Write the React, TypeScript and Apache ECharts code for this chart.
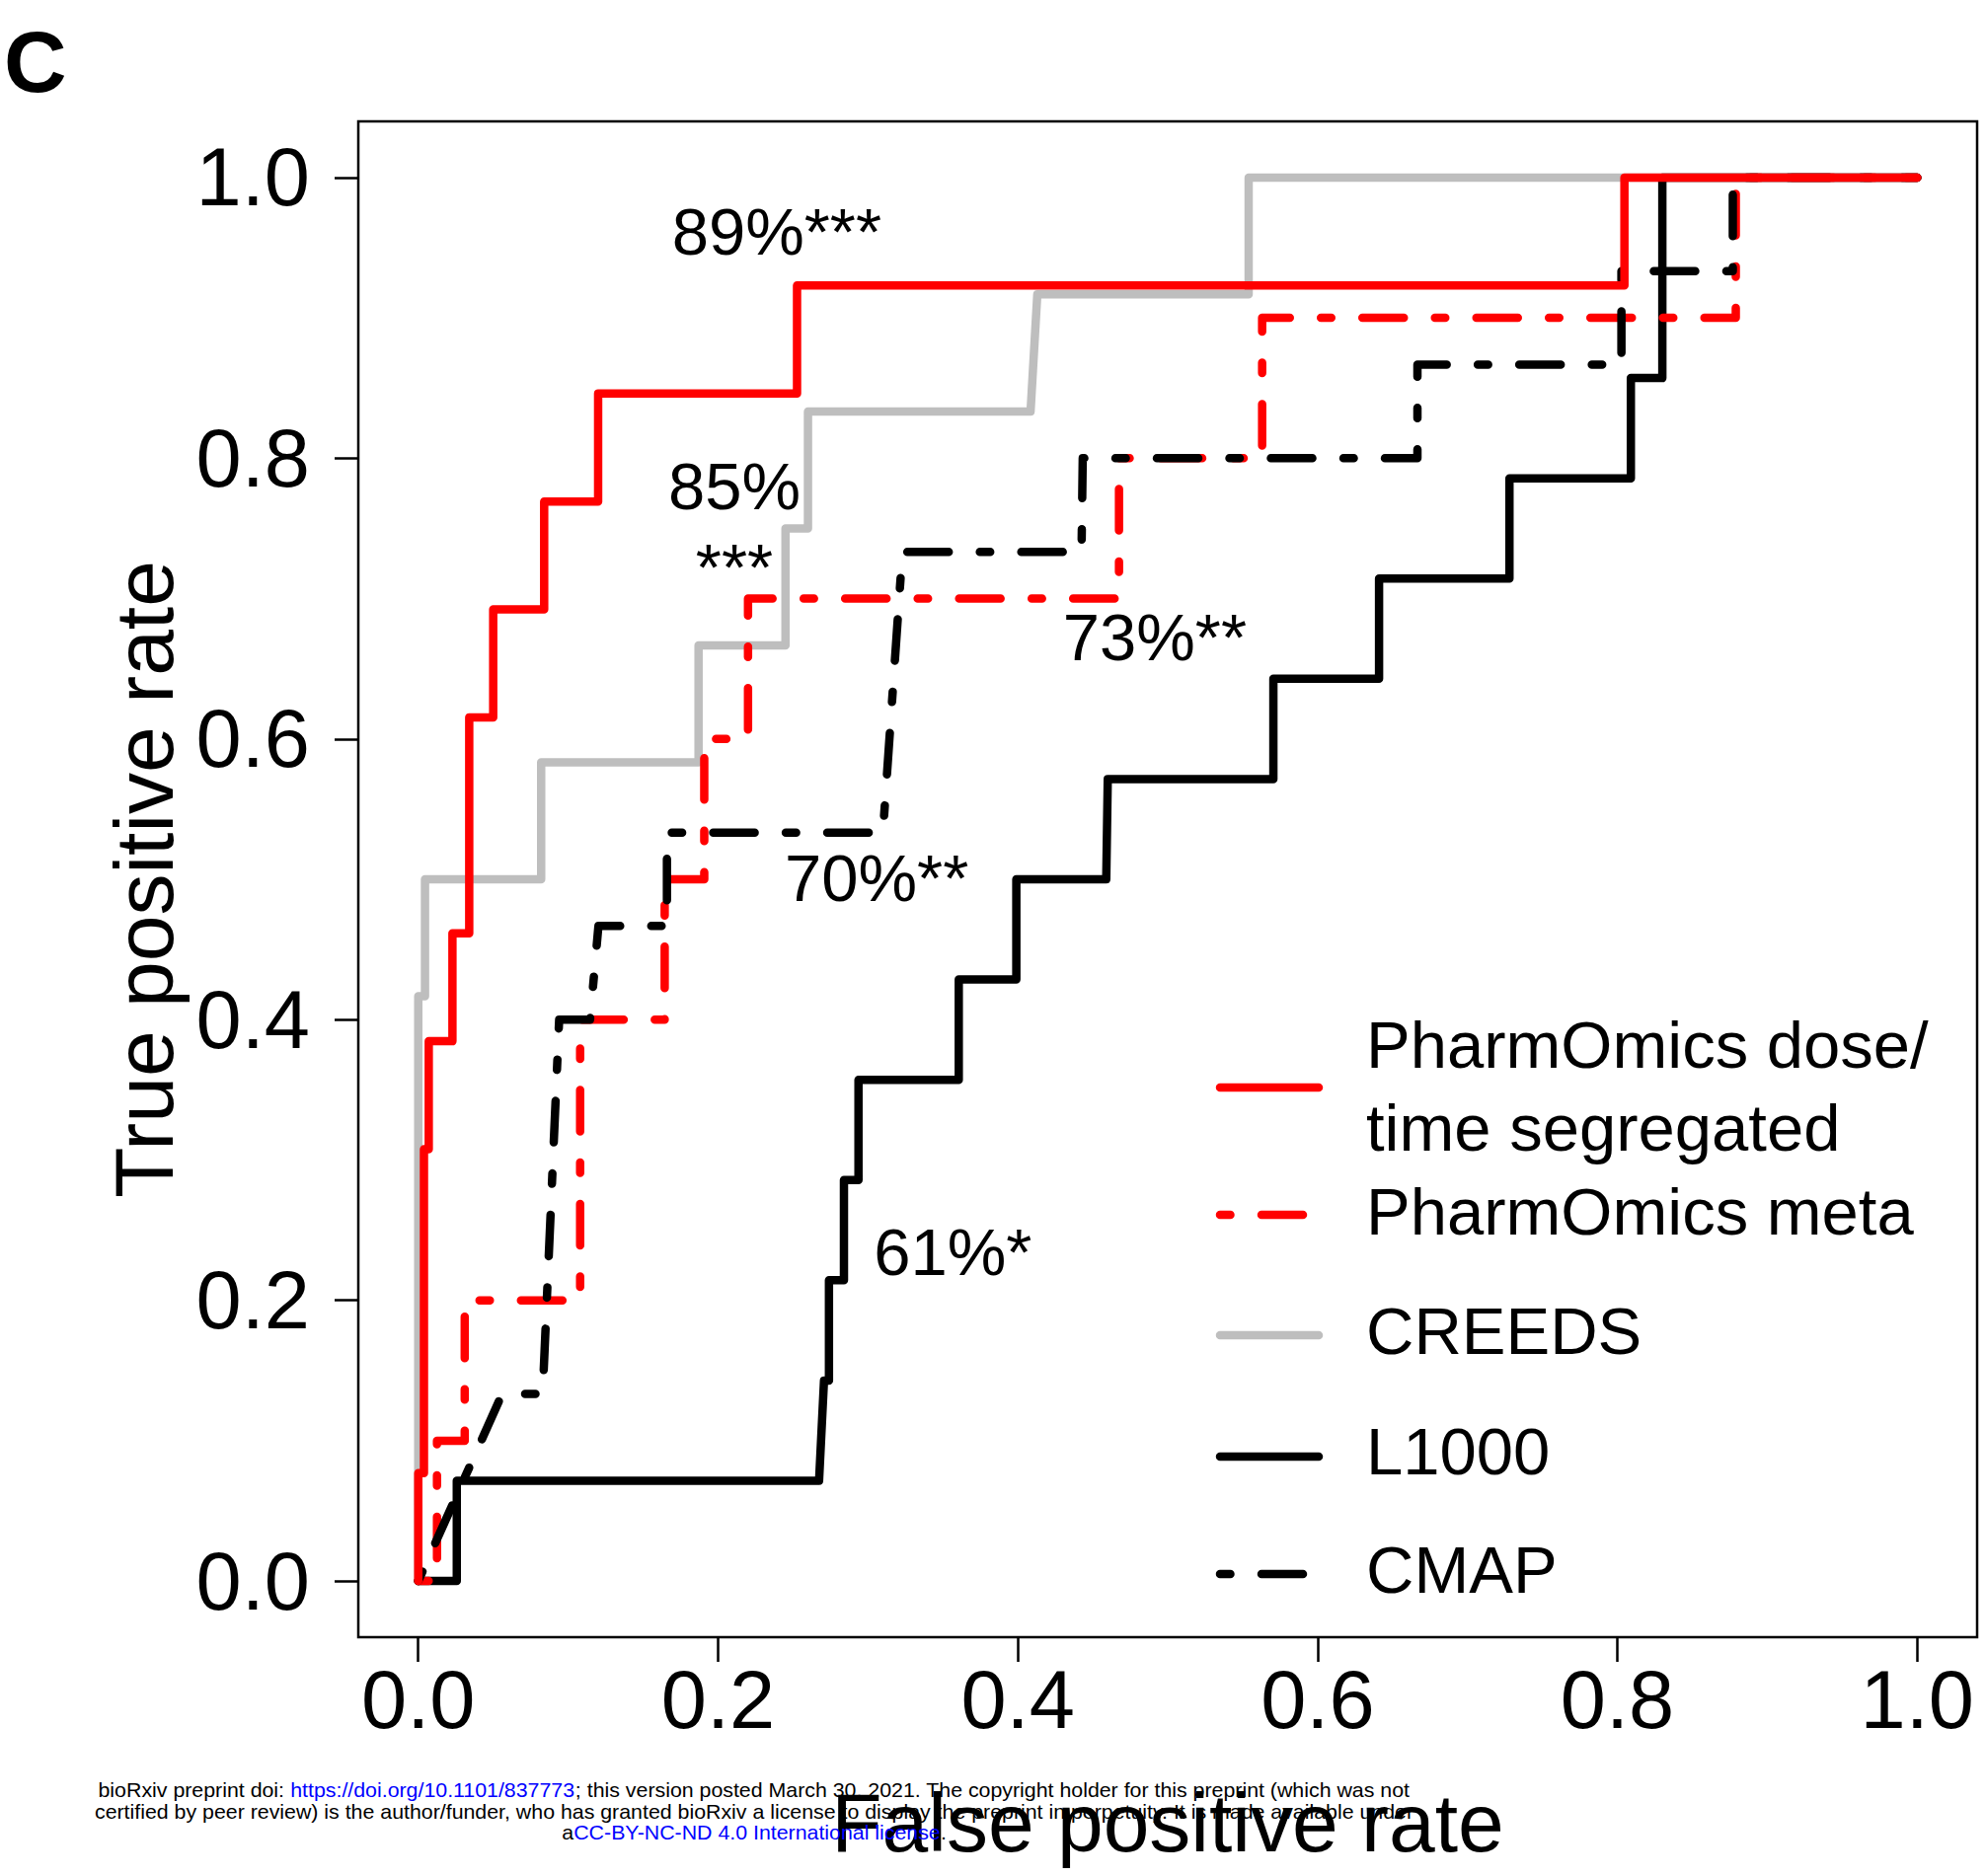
import React, { useEffect, useRef } from "react";
import * as echarts from "echarts";

// ---------- data ----------
const doseFPR = [0, 0, 0.0038, 0.0038, 0.007, 0.007, 0.0228, 0.0228, 0.034, 0.034, 0.05, 0.05, 0.084, 0.084, 0.12, 0.12, 0.2527, 0.2527, 0.8047, 0.8047, 1];
const doseTPR = [0, 0.0769, 0.0769, 0.3077, 0.3077, 0.3846, 0.3846, 0.4615, 0.4615, 0.6154, 0.6154, 0.6923, 0.6923, 0.7692, 0.7692, 0.8462, 0.8462, 0.9231, 0.9231, 1, 1];

const metaFPR = [0, 0.0125, 0.0125, 0.031, 0.031, 0.108, 0.108, 0.1644, 0.1644, 0.1908, 0.1908, 0.22, 0.22, 0.4675, 0.4675, 0.563, 0.563, 0.879, 0.879, 1];
const metaTPR = [0, 0, 0.1, 0.1, 0.2, 0.2, 0.4, 0.4, 0.5, 0.5, 0.6, 0.6, 0.7, 0.7, 0.8, 0.8, 0.9, 0.9, 1, 1];

const creedsFPR = [0, 0, 0.0045, 0.0045, 0.082, 0.082, 0.187, 0.187, 0.245, 0.245, 0.26, 0.26, 0.4085, 0.413, 0.554, 0.554, 1];
const creedsTPR = [0, 0.4167, 0.4167, 0.5, 0.5, 0.5833, 0.5833, 0.6667, 0.6667, 0.75, 0.75, 0.8333, 0.8333, 0.9167, 0.9167, 1, 1];

const l1000FPR = [0, 0.0257, 0.0257, 0.2674, 0.2707, 0.274, 0.274, 0.284, 0.284, 0.2937, 0.2937, 0.3606, 0.3606, 0.399, 0.399, 0.459, 0.46, 0.5705, 0.5705, 0.641, 0.641, 0.728, 0.728, 0.809, 0.809, 0.83, 0.83, 1];
const l1000TPR = [0, 0, 0.0714, 0.0714, 0.1429, 0.1429, 0.2143, 0.2143, 0.2857, 0.2857, 0.3571, 0.3571, 0.4286, 0.4286, 0.5, 0.5, 0.5714, 0.5714, 0.6429, 0.6429, 0.7143, 0.7143, 0.7857, 0.7857, 0.8571, 0.8571, 1, 1];

const cmapFPR = [0, 0.056, 0.083, 0.094, 0.1146, 0.1202, 0.1659, 0.1659, 0.31, 0.323, 0.4425, 0.4433, 0.6666, 0.6666, 0.8027, 0.8027, 0.877, 0.877, 1];
const cmapTPR = [0, 0.1333, 0.1333, 0.4, 0.4, 0.4667, 0.4667, 0.5333, 0.5333, 0.7333, 0.7333, 0.8, 0.8, 0.8667, 0.8667, 0.9333, 0.9333, 1, 1];

const axisTicks = [0, 0.2, 0.4, 0.6, 0.8, 1.0];

const annotationTexts = ["89%***", "85%", "***", "73%**", "70%**", "61%*"];
const annotationFPR = [0.1692, 0.1668, 0.1851, 0.43, 0.2445, 0.3039];
const annotationTPR = [0.9613, 0.7799, 0.7222, 0.6729, 0.5013, 0.2347];

const legendLabels = ["PharmOmics dose/\ntime segregated", "PharmOmics meta", "CREEDS", "L1000", "CMAP"];

const footerLine1 = ["bioRxiv preprint doi: ", "https://doi.org/10.1101/837773", "; this version posted March 30, 2021. The copyright holder for this preprint (which was not"];
const footerLine2 = "certified by peer review) is the author/funder, who has granted bioRxiv a license to display the preprint in perpetuity. It is made available under";
const footerLine3 = ["a", "CC-BY-NC-ND 4.0 International license", "."];

// ---------- styles ----------
const FONT = "'Liberation Sans', Arial, Helvetica, sans-serif";
const DOT_DASH = [10.5, 31.5, 42, 31.5];
const LW = 8.5;

const zip = (xs: number[], ys: number[]) => xs.map((x, i) => [x, ys[i]]);

// drawing order: first = bottom
const seriesDefs = [
  { name: "CREEDS", fpr: creedsFPR, tpr: creedsTPR, color: "#BEBEBE", dash: null as any },
  { name: "L1000", fpr: l1000FPR, tpr: l1000TPR, color: "#000000", dash: null as any },
  { name: "PharmOmics meta", fpr: metaFPR, tpr: metaTPR, color: "#FF0000", dash: DOT_DASH },
  { name: "CMAP", fpr: cmapFPR, tpr: cmapTPR, color: "#000000", dash: DOT_DASH },
  { name: "PharmOmics dose/\ntime segregated", fpr: doseFPR, tpr: doseTPR, color: "#FF0000", dash: null as any },
];

const legendLineY = [1102, 1231, 1353, 1476, 1595];
const legendTextY = [1100, 1227, 1348, 1470, 1590];

function measure(text: string, font: string) {
  const c = document.createElement("canvas").getContext("2d");
  if (!c) return text.length * 10;
  c.font = font;
  return c.measureText(text).width;
}

export default function App() {
  const ref = useRef<HTMLDivElement>(null);
  useEffect(() => {
    if (!ref.current) return;
    const chart = echarts.init(ref.current, null, { renderer: "svg" });

    const series: any[] = seriesDefs.map((s) => ({
      name: s.name,
      type: "line",
      data: zip(s.fpr, s.tpr),
      showSymbol: false,
      symbol: "none",
      silent: true,
      lineStyle: {
        color: s.color,
        width: LW,
        type: s.dash ? s.dash : "solid",
        cap: "round",
        join: "round",
        opacity: 1,
      },
      emphasis: { disabled: true },
    }));

    series.push({
      type: "scatter",
      silent: true,
      symbolSize: 0,
      itemStyle: { opacity: 1, color: "#000" },
      data: annotationTexts.map((t, i) => [annotationFPR[i], annotationTPR[i], t]),
      label: {
        show: true,
        position: "right",
        distance: 0,
        formatter: (p: any) => p.data[2],
        fontSize: 67,
        lineHeight: 67,
        fontFamily: FONT,
        color: "#000000",
        opacity: 1,
        textBorderWidth: 0,
        align: "left",
        verticalAlign: "middle",
      },
      emphasis: { disabled: true },
      z: 5,
    });

    // legend drawn as graphic elements
    const legendOrder = [4, 2, 0, 1, 3];
    const graphics: any[] = [];
    legendOrder.forEach((si, row) => {
      const s = seriesDefs[si];
      graphics.push({
        type: "line",
        silent: true,
        shape: { x1: 1236, y1: legendLineY[row], x2: 1336, y2: legendLineY[row] },
        style: {
          stroke: s.color,
          lineWidth: LW,
          lineDash: s.dash ? s.dash : null,
          lineCap: "round",
        },
      });
      graphics.push({
        type: "text",
        silent: true,
        x: 1384,
        y: legendTextY[row],
        style: {
          text: legendLabels[row],
          fontSize: 67,
          lineHeight: 84,
          fontFamily: FONT,
          fill: "#000",
          align: "left",
          textAlign: "left",
          verticalAlign: "middle",
          textVerticalAlign: "middle",
        },
      });
    });

    // panel letter
    graphics.push({
      type: "text",
      silent: true,
      x: 4,
      y: 62,
      style: {
        text: "C",
        fontSize: 88,
        fontWeight: "bold",
        fontFamily: FONT,
        fill: "#000",
        verticalAlign: "middle",
        textVerticalAlign: "middle",
      },
    });

    // footer stamp
    const fFont = 21;
    const fontStr = `${fFont}px 'Liberation Sans'`;
    const w1 = measure(footerLine1.join(""), fontStr);
    const w2 = measure(footerLine2, fontStr);
    const sx = (1328 / w1 + 1339 / w2) / 2;
    const rich = {
      k: { fill: "#000", fontSize: fFont, fontFamily: FONT },
      b: { fill: "#0000FF", fontSize: fFont, fontFamily: FONT },
    };
    const footerRows = [
      `{k|${footerLine1[0]}}{b|${footerLine1[1]}}{k|${footerLine1[2]}}`,
      `{k|${footerLine2}}`,
      `{k|${footerLine3[0]}}{b|${footerLine3[1]}}{k|${footerLine3[2]}}`,
    ];
    const footerY = [1814, 1836, 1857];
    footerRows.forEach((t, i) => {
      graphics.push({
        type: "text",
        silent: true,
        z: 100,
        x: 764,
        y: footerY[i],
        scaleX: sx,
        style: {
          text: t,
          rich,
          fontSize: fFont,
          fontFamily: FONT,
          align: "center",
          textAlign: "center",
          verticalAlign: "middle",
          textVerticalAlign: "middle",
        },
      });
    });

    const option: any = {
      animation: false,
      backgroundColor: "#ffffff",
      grid: {
        left: 363,
        top: 123,
        width: 1640,
        height: 1536,
        show: true,
        borderColor: "#000",
        borderWidth: 2.5,
        backgroundColor: "transparent",
      },
      xAxis: {
        type: "value",
        min: -0.04,
        max: 1.04,
        axisLine: { show: false, onZero: false },
        splitLine: { show: false },
        axisTick: { show: true, inside: false, length: 25, lineStyle: { color: "#000", width: 2.5 }, customValues: axisTicks },
        axisLabel: {
          customValues: axisTicks,
          formatter: (v: number) => v.toFixed(1),
          fontSize: 83,
          lineHeight: 83,
          color: "#000",
          fontFamily: FONT,
          margin: 22,
        },
        name: "False positive rate",
        nameLocation: "middle",
        nameGap: 146,
        nameTextStyle: { fontSize: 84, lineHeight: 84, color: "#000", fontFamily: FONT },
      },
      yAxis: {
        type: "value",
        min: -0.04,
        max: 1.04,
        axisLine: { show: false, onZero: false },
        splitLine: { show: false },
        axisTick: { show: true, inside: false, length: 24, lineStyle: { color: "#000", width: 2.5 }, customValues: axisTicks },
        axisLabel: {
          customValues: axisTicks,
          formatter: (v: number) => v.toFixed(1),
          fontSize: 83,
          lineHeight: 83,
          color: "#000",
          fontFamily: FONT,
          margin: 49,
        },
        name: "True positive rate",
        nameLocation: "middle",
        nameGap: 175,
        nameTextStyle: { fontSize: 84, lineHeight: 84, color: "#000", fontFamily: FONT },
      },
      series,
      graphic: graphics,
    };

    chart.setOption(option);
    return () => chart.dispose();
  }, []);

  return (
    <div
      ref={ref}
      style={{ position: "fixed", left: 0, top: 0, width: 2012, height: 1901, background: "#fff" }}
    />
  );
}
